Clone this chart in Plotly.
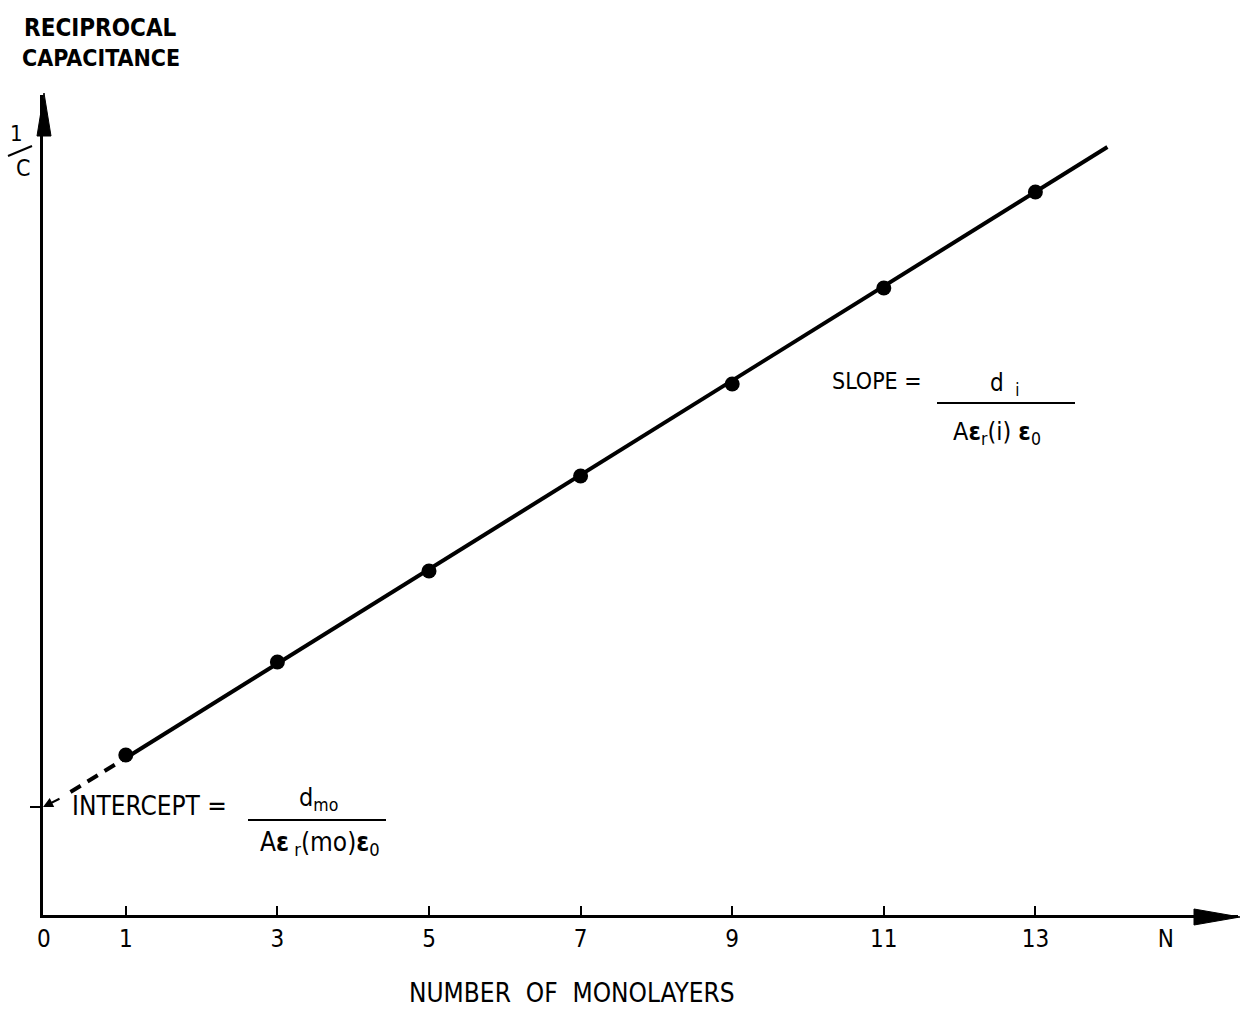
import plotly.graph_objects as go

# ---- data ----
monolayers = [1, 3, 5, 7, 9, 11, 13]
recip_cap = [1.60, 2.53, 3.44, 4.39, 5.31, 6.27, 7.23]
fit_x = [1, 13.95]
fit_y = [1.57, 7.68]
extrap_x = [0.27, 1]
extrap_y = [1.23, 1.57]
intercept_value = [1.08]
tick_vals = [-0.08, 1, 3, 5, 7, 9, 11, 13, 14.72]
tick_text = ["0", "1", "3", "5", "7", "9", "11", "13", "N"]
minor_ticks = [1, 3, 5, 7, 9, 11, 13]

FONT = "DejaVu Sans Condensed, Liberation Sans Narrow, DejaVu Sans, sans-serif"
W, H = 1240, 1018
L, R, T, B = 43, 2, 95, 103
PW, PH = W - L - R, H - T - B
SCALE = 75.8
X0PIX = 50


def px(x):
    return (x - L) / PW


def py(y):
    return (H - B - y) / PH


fig = go.Figure()
fig.add_trace(go.Scatter(x=extrap_x, y=extrap_y, mode="lines",
                         line=dict(color="black", width=4, dash="12px,8px"),
                         showlegend=False, hoverinfo="skip"))
fig.add_trace(go.Scatter(x=fit_x, y=fit_y, mode="lines",
                         line=dict(color="black", width=4),
                         showlegend=False, hoverinfo="skip"))
fig.add_trace(go.Scatter(x=monolayers, y=recip_cap, mode="markers",
                         marker=dict(color="black", size=15),
                         showlegend=False))

xmin = (L - X0PIX) / SCALE
fig.update_xaxes(range=[xmin, xmin + PW / SCALE], showgrid=False, zeroline=False,
                 showline=True, linecolor="black", linewidth=3,
                 tickvals=tick_vals, ticktext=tick_text, ticks="",
                 tickfont=dict(family=FONT, size=24, color="black"),
                 minor=dict(tickvals=minor_ticks, ticks="inside", ticklen=9,
                            tickwidth=2, tickcolor="black", showgrid=False))
fig.update_yaxes(range=[0, PH / 100], showgrid=False, zeroline=False,
                 showline=True, linecolor="black", linewidth=3,
                 tickvals=intercept_value, ticks="outside", ticklen=10,
                 tickwidth=2, tickcolor="black", showticklabels=False)

shapes = []
# arrowheads
shapes.append(dict(type="path", xref="paper", yref="paper",
                   path=f"M {px(44)},{py(93)} L {px(51)},{py(136)} L {px(37)},{py(136)} Z",
                   fillcolor="black", line=dict(color="black", width=1)))
shapes.append(dict(type="path", xref="paper", yref="paper",
                   path=f"M {px(1240)},{py(917)} L {px(1194)},{py(909)} L {px(1194)},{py(925)} Z",
                   fillcolor="black", line=dict(color="black", width=1)))
# 1/C slash
shapes.append(dict(type="line", xref="paper", yref="paper",
                   x0=px(8), y0=py(156), x1=px(32), y1=py(146),
                   line=dict(color="black", width=2)))
# fraction bars
shapes.append(dict(type="line", xref="paper", yref="paper",
                   x0=px(248), y0=py(820), x1=px(386), y1=py(820),
                   line=dict(color="black", width=2)))
shapes.append(dict(type="line", xref="paper", yref="paper",
                   x0=px(937), y0=py(403), x1=px(1075), y1=py(403),
                   line=dict(color="black", width=2)))


def txt(x, y, s, size, xanchor="left", bold=False):
    return dict(x=px(x), y=py(y), xref="paper", yref="paper", text=(f"<b>{s}</b>" if bold else s),
                showarrow=False, xanchor=xanchor, yanchor="middle",
                font=dict(family=FONT, size=size, color="black"))


ann = [
    txt(22, 28, "RECIPROCAL", 24, bold=True),
    txt(20, 58, "CAPACITANCE", 23, bold=True),
    txt(16, 133, "1", 22, xanchor="center"),
    txt(23, 168, "C", 23, xanchor="center"),
    txt(70, 806, "INTERCEPT =", 26),
    txt(318, 799, "d<sub>mo</sub>", 25, xanchor="center"),
    txt(320, 843, "A<b>ε</b><sub> r</sub>(mo)<b>ε</b><sub>0</sub>", 26, xanchor="center"),
    txt(830, 381, "SLOPE =", 23),
    txt(1005, 384, "d <sub> i</sub>", 24, xanchor="center"),
    txt(997, 433, "A<b>ε</b><sub>r</sub>(i) <b>ε</b><sub>0</sub>", 25, xanchor="center"),
    txt(572, 993, "NUMBER  OF  MONOLAYERS", 26, xanchor="center"),
    dict(x=xmin, y=intercept_value[0], xref="x", yref="y", text="", showarrow=True,
         ax=18, ay=-9, arrowhead=2, arrowsize=1, arrowwidth=2, arrowcolor="black"),
]

fig.update_layout(width=W, height=H, margin=dict(l=L, r=R, t=T, b=B),
                  paper_bgcolor="white", plot_bgcolor="white",
                  shapes=shapes, annotations=ann, showlegend=False)
fig.write_html("out.html")
